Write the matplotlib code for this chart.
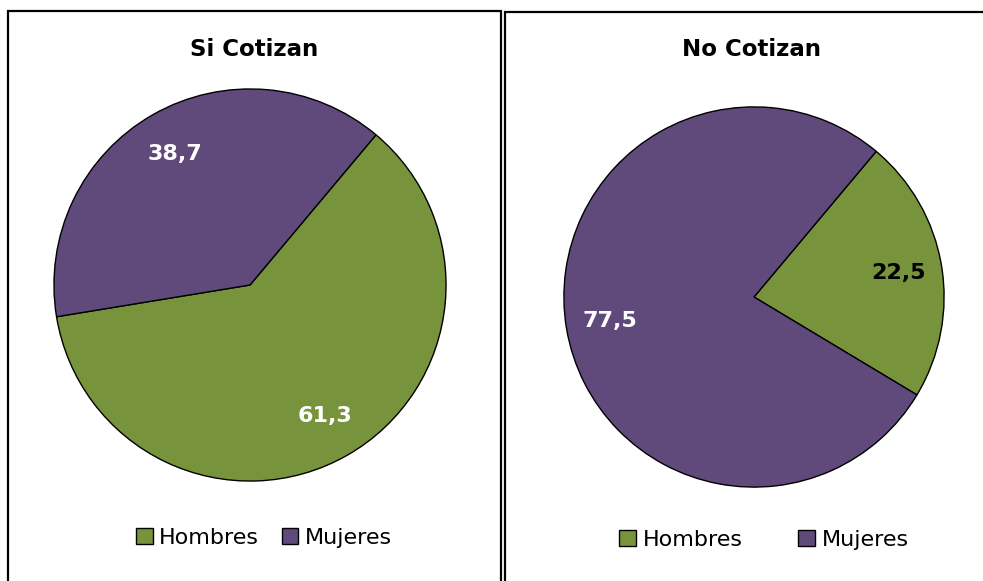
import matplotlib.pyplot as plt
from matplotlib.patches import Rectangle

categories = ['Hombres', 'Mujeres']
si_cotizan = [61.3, 38.7]
no_cotizan = [22.5, 77.5]
titles = ['Si Cotizan', 'No Cotizan']

colors = ['#77933C', '#604A7B']
label_colors = [['white', 'white'], ['black', 'white']]

W, H = 983, 581
fig = plt.figure(figsize=(W / 100, H / 100), dpi=100)
fig.patch.set_facecolor('white')

# panel frames (bottom edge runs off the picture)
fig.patches.append(Rectangle((8 / W, -0.05), 493 / W, (H - 11) / H + 0.05,
                             transform=fig.transFigure, fill=False,
                             edgecolor='black', linewidth=1.6))
fig.patches.append(Rectangle((505 / W, -0.05), 500 / W, (H - 12) / H + 0.05,
                             transform=fig.transFigure, fill=False,
                             edgecolor='black', linewidth=1.6))

# (center x, center y, radius) in pixels
pies = [(250, 285, 198), (754, 297, 192)]
title_x = [254, 751]
legend_pos = [(264, 538, 1.0), (764, 540, 2.5)]

fmt = lambda p: f'{p:.1f}'.replace('.', ',')

for i, vals in enumerate([si_cotizan, no_cotizan]):
    cx, cy, r = pies[i]
    ax = fig.add_axes([(cx - r) / W, (H - cy - r) / H, 2 * r / W, 2 * r / H])
    wedges, texts, autotexts = ax.pie(vals, colors=colors, startangle=50,
                                      counterclock=False, autopct=fmt,
                                      pctdistance=0.77, radius=1,
                                      wedgeprops=dict(edgecolor='black', linewidth=1.0))
    for t, c in zip(autotexts, label_colors[i]):
        t.set_color(c)
        t.set_fontsize(16)
        t.set_fontweight('bold')
    ax.set_xlim(-1.01, 1.01)
    ax.set_ylim(-1.01, 1.01)
    ax.set_aspect('equal')
    ax.axis('off')

    fig.text(title_x[i] / W, 1 - 50 / H, titles[i], ha='center', va='center',
             fontsize=16.5, fontweight='bold')

    lx, ly, cs = legend_pos[i]
    fig.legend(wedges, categories, loc='center', bbox_to_anchor=(lx / W, 1 - ly / H),
               ncol=2, frameon=False, fontsize=16, handlelength=0.75, handleheight=0.75,
               handletextpad=0.3, columnspacing=cs, borderaxespad=0)

plt.savefig('out.png', dpi=100)
